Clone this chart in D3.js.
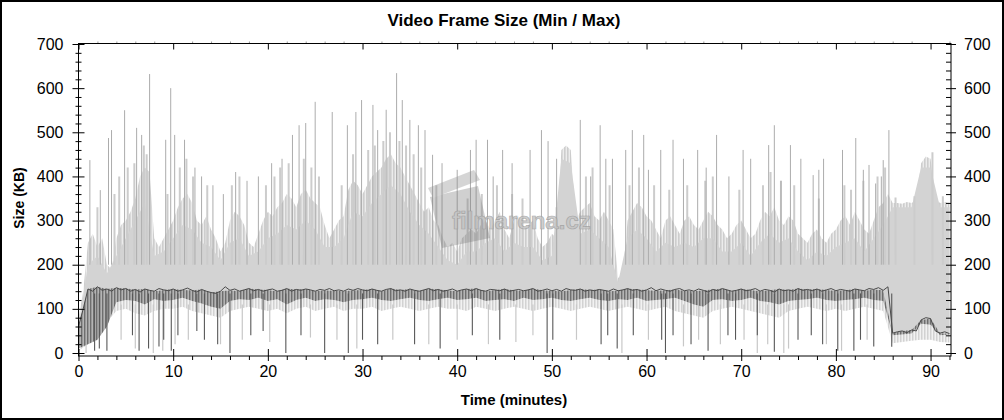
<!DOCTYPE html>
<html><head><meta charset="utf-8">
<script src="https://cdn.jsdelivr.net/npm/d3@7"></script>
<style>body{margin:0;background:#fff}svg{display:block}text{font-family:"Liberation Sans",Arial,sans-serif}</style>
</head><body><svg id="c" width="1004" height="420"></svg>
<script>
// ---- data (KB) ----
// upper envelope of the max band, one value every 0.5 minute (t = 0 .. 92)
const maxBody = [
 80,140,250,270,240,260,200,190,260,290,
 300,320,350,400,420,410,260,240,260,280,
 300,330,350,360,340,300,290,310,280,260,
 230,250,300,320,310,290,250,240,270,300,
 320,310,330,340,360,350,330,360,370,350,
 340,330,290,260,280,300,310,370,390,380,
 360,380,400,410,420,440,450,430,420,400,
 380,360,340,320,330,300,290,260,240,250,
 230,260,270,280,270,290,300,280,300,320,
 280,260,300,310,280,290,300,260,240,250,
 270,260,460,470,460,300,320,330,340,310,
 300,320,300,280,170,180,300,320,340,330,
 310,300,280,260,300,310,290,270,300,310,
 290,280,300,320,310,290,280,260,270,290,
 300,280,260,270,300,320,310,330,300,290,
 310,300,270,260,250,270,280,260,250,270,
 280,300,310,290,320,300,280,270,300,330,
 340,360,340,340,338,342,340,345,430,445,
 440,350,340,342,340];
// solid part of the max band, one value per minute
const maxSolid = [
 60,200,220,180,220,260,300,340,220,230,
 260,290,280,250,240,210,250,260,220,230,
 260,270,290,280,300,280,240,240,260,320,
 310,340,360,380,360,320,290,270,240,210,
 200,230,230,250,260,230,250,240,240,210,
 220,440,430,270,280,260,240,160,260,280,
 260,230,250,240,250,240,260,260,230,230,
 250,220,250,270,250,260,230,210,230,220,
 240,250,260,230,260,290,330,330,330,420,
 420,330,330];
// dark min line, one value every 0.5 minute
const minLine = [
 60,100,145,140,150,142,145,140,148,143,
 146,140,144,138,145,142,140,146,143,141,
 145,140,143,147,142,138,144,140,137,135,
 140,150,142,145,140,143,146,141,144,140,
 143,145,140,142,146,140,144,142,145,143,
 140,144,142,146,141,143,140,145,142,146,
 143,141,145,142,140,144,146,141,143,140,
 145,142,140,143,146,141,144,140,142,145,
 140,143,145,141,146,142,140,144,143,141,
 145,140,142,144,141,143,146,140,142,145,
 141,144,140,146,143,142,145,140,143,141,
 144,142,140,145,141,143,146,142,144,140,
 143,148,141,145,142,140,144,146,141,143,
 140,145,142,138,144,141,146,143,140,142,
 145,141,143,146,140,144,142,138,145,141,
 143,140,146,142,144,141,145,140,143,146,
 141,144,142,140,145,143,141,146,144,148,
 142,150,45,48,50,46,52,50,75,80,
 78,50,45,48,44];
// bottom of the dark band under the min line, one value per minute
const darkLow = [
 10,20,30,60,115,120,118,110,122,118,
 120,125,118,112,105,100,118,122,120,125,
 118,122,110,120,125,118,122,120,115,120,
 122,125,120,118,122,125,120,118,122,125,
 120,122,125,118,120,122,118,125,120,122,
 125,120,118,122,125,120,118,122,120,125,
 118,120,122,125,118,110,105,120,122,118,
 120,125,118,115,110,118,120,122,125,120,
 118,120,122,125,120,118,40,42,44,66,
 64,40,42];
// lower edge of the pale band, one value per minute
const lowEdge = [
 5,20,40,70,95,100,90,85,95,100,
 100,105,95,90,85,80,95,100,105,100,
 95,100,90,100,105,95,100,105,95,100,
 100,105,95,100,105,100,95,100,105,100,
 100,95,105,100,95,100,105,100,95,100,
 105,100,95,100,105,100,95,100,105,100,
 95,100,105,95,90,85,80,95,100,105,
 100,95,90,85,80,95,100,105,100,95,
 100,95,100,105,100,95,22,25,28,30,
 30,25,24];
// tall peaks [minute, KB]
const darkSpikes = [[1.2,437],[2.3,369],[3.17,487],[3.49,505],[4.87,550],[6.14,510],[6.67,494],[7.51,632],[9.21,483],[9.74,600],[10.16,494],[11.2,483],[12.3,420],[13.0,400],[14.2,380],[15.3,360],[16.6,410],[17.8,390],[19.0,400],[20.4,430],[21.5,440],[22.6,494],[23.3,516],[24.0,521],[25.0,569],[26.8,546],[28.4,516],[29.3,546],[29.9,573],[31.1,562],[31.6,505],[32.5,551],[33.6,634],[34.2,573],[35.0,528],[35.9,516],[36.6,505],[37.4,449],[38.4,430],[40.0,415],[41.4,460],[42.0,483],[43.2,483],[43.8,400],[44.8,460],[45.8,430],[47.7,460],[48.9,505],[49.6,480],[50.5,440],[53.0,528],[54.1,400],[55.1,516],[55.7,440],[56.4,440],[57.8,460],[58.5,505],[59.7,494],[60.2,415],[61.5,460],[62.8,483],[63.9,440],[65.4,460],[66.3,420],[67.4,494],[68.7,400],[70.2,460],[71.0,440],[72.9,471],[73.5,516],[74.2,390],[75.2,471],[76.3,440],[77.6,403],[78.2,415],[78.7,440],[80.7,460],[82.1,487],[82.9,415],[83.5,426],[84.2,384],[84.8,400],[85.0,437],[85.6,505]];
const lightBars = [[2.0,330],[3.8,360],[4.3,400],[5.2,420],[5.9,430],[6.9,470],[7.2,450],[9.4,360],[10.7,420],[11.4,440],[12.1,400],[13.6,380],[16.2,380],[17.0,400],[19.8,380],[20.7,400],[21.3,420],[22.2,430],[23.8,440],[24.6,420],[25.4,400],[27.8,380],[29.0,450],[30.6,460],[31.3,470],[32.2,480],[32.9,500],[33.9,480],[34.6,470],[35.4,450],[36.2,420],[37.8,380],[41.1,350],[42.6,360],[44.2,380],[45.8,360],[46.9,350],[50.5,330],[53.6,400],[54.3,420],[56.1,380],[58.2,380],[59.2,420],[60.8,380],[62.4,370],[64.3,380],[66.2,390],[67.0,400],[69.8,370],[72.3,380],[73.1,410],[74.2,390],[75.6,380],[78.2,350],[80.9,380],[81.6,370],[82.9,390],[84.4,400],[85.2,420],[86.3,352],[88.3,355],[90.2,455],[91.3,355]];
// downward drops [minute, KB]
const darkDips = [[1.7,5],[2.2,10],[3.0,5],[5.7,40],[6.4,5],[7.4,10],[8.5,15],[9.0,30],[9.8,5],[10.5,40],[12.5,50],[13.3,30],[14.7,20],[16.0,0],[18.2,40],[19.5,50],[21.9,0],[23.5,40],[26.0,0],[28.5,0],[30.0,30],[31.6,20],[35.5,20],[38.2,10],[41.6,40],[44.5,30],[49.5,0],[50.1,30],[55.2,20],[55.9,40],[56.9,10],[58.6,40],[61.6,30],[62.0,0],[62.8,40],[64.7,20],[66.5,5],[68.6,40],[69.4,30],[71.7,40],[73.5,3],[76.0,30],[77.4,40],[78.6,20],[80.2,5],[81.9,5],[82.6,30],[84.0,15],[85.9,14]];
const lightDips = [[0.8,0],[4.5,30],[6.0,10],[7.9,0],[8.9,5],[10.2,20],[11.6,30],[15.0,20],[17.3,30],[20.2,25],[24.5,35],[27.3,30],[29.4,10],[33.2,30],[37.0,20],[40.0,30],[43.3,20],[46.2,25],[48.0,40],[52.6,30],[57.4,0],[60.2,30],[63.9,15],[65.5,30],[67.8,20],[70.3,30],[71.7,0],[72.8,20],[74.5,0],[75.0,10],[79.0,20],[80.6,5],[83.3,30]];
const yMajor = [0,100,200,300,400,500,600,700];
const xMajor = [0,10,20,30,40,50,60,70,80,90];

// ---- chart ----
const svg = d3.select("#c");
const L = 78.5, R = 951, T = 43.5, B = 356;
const x = d3.scaleLinear().domain([0, 92.16]).range([L, R]);
const y = d3.scaleLinear().domain([0, 700]).range([353, 44]);

const defs = svg.append("defs");
function stripes(id, w, lw, bg, fg){
  const p = defs.append("pattern").attr("id",id).attr("width",w).attr("height",10).attr("patternUnits","userSpaceOnUse");
  p.append("rect").attr("width",w).attr("height",10).attr("fill",bg);
  p.append("rect").attr("width",lw).attr("height",10).attr("fill",fg);
}
stripes("hair", 3, 1.6, "#ececec", "#cdcdcd");
stripes("darkp", 3, 1.4, "#b4b4b4", "#6e6e6e");
stripes("palep", 3, 1.5, "#f2f2f2", "#d2d2d2");

svg.append("rect").attr("x",1).attr("y",1).attr("width",1002).attr("height",418)
  .attr("fill","#fff").attr("stroke","#000").attr("stroke-width",2);

defs.append("clipPath").attr("id","plot").append("rect")
  .attr("x",L).attr("y",T).attr("width",R-L).attr("height",B-T);
const g = svg.append("g").attr("clip-path","url(#plot)");

const half = (d,i) => x(i*0.5), whole = (d,i) => x(i);

// pale band below the min line
g.append("path").datum(lowEdge)
  .attr("d", d3.area().x(whole).y0(d=>y(d)).y1((d,i)=>y(darkLow[i])))
  .attr("fill","url(#palep)");
g.selectAll("line.ld").data(lightDips).join("line").attr("class","ld")
  .attr("x1",d=>x(d[0])).attr("x2",d=>x(d[0]))
  .attr("y1",y(110)).attr("y2",d=>y(d[1]))
  .attr("stroke","#c8c8c8").attr("stroke-width",1.2);

// max band: textured envelope, then solid part
g.append("path").datum(maxBody)
  .attr("d", d3.area().x(half).y0((d,i)=>y(minLine[i])).y1(d=>y(d)))
  .attr("fill","url(#hair)");
g.append("path").datum(maxSolid)
  .attr("d", d3.area().x(whole).y0((d,i)=>y(minLine[Math.min(2*i,minLine.length-1)])).y1(d=>y(d)))
  .attr("fill","#d3d3d3");
g.selectAll("line.lb").data(lightBars).join("line").attr("class","lb")
  .attr("x1",d=>x(d[0])).attr("x2",d=>x(d[0]))
  .attr("y1",y(200)).attr("y2",d=>y(d[1]))
  .attr("stroke","#cccccc").attr("stroke-width",2);
g.selectAll("line.ds").data(darkSpikes).join("line").attr("class","ds")
  .attr("x1",d=>x(d[0])).attr("x2",d=>x(d[0]))
  .attr("y1",y(200)).attr("y2",d=>y(d[1]))
  .attr("stroke","#acacac").attr("stroke-width",1);

// dark band and min line
g.append("path").datum(darkLow)
  .attr("d", d3.area().x(whole).y0(d=>y(d)).y1((d,i)=>y(minLine[Math.min(2*i,minLine.length-1)])))
  .attr("fill","url(#darkp)");
g.selectAll("line.dd").data(darkDips).join("line").attr("class","dd")
  .attr("x1",d=>x(d[0])).attr("x2",d=>x(d[0]))
  .attr("y1",y(135)).attr("y2",d=>y(d[1]))
  .attr("stroke","#585858").attr("stroke-width",1.1);
g.append("path").datum(minLine)
  .attr("d", d3.line().x(half).y(d=>y(d)))
  .attr("fill","none").attr("stroke","#4a4a4a").attr("stroke-width",1);

// watermark
const wm = svg.append("g").attr("opacity",0.35);
wm.append("path").attr("d","M430,197 L478,186 L490,238 L442,248 Z").attr("fill","#7a7a7a");
wm.append("path").attr("d","M428,188 L474,170 L480,180 L433,198 Z").attr("fill","#8a8a8a");
svg.append("text").attr("x",452).attr("y",229).attr("font-size",24).attr("font-weight","bold")
  .attr("fill","#c4c4c4").attr("stroke","#9a9a9a").attr("stroke-width",0.7).attr("opacity",0.8).text("filmarena.cz");

// axes
const ink = "#000";
function styleAxis(sel){ sel.select(".domain").remove(); sel.selectAll("line").attr("stroke",ink); sel.selectAll("text").attr("fill",ink).attr("font-size",16).attr("font-family","'Liberation Sans',Arial,sans-serif"); }
const yMinor = d3.range(0,701,20).filter(v=>v%100!==0);
const xMinor = d3.range(0,93,2).filter(v=>v%10!==0);

const gl = svg.append("g").attr("transform",`translate(${L},0)`);
gl.append("g").call(d3.axisLeft(y).tickValues(yMinor).tickFormat("").tickSize(3)).call(styleAxis)
  .selectAll("line").attr("x2",-3).attr("x1",3);
gl.append("g").call(d3.axisLeft(y).tickValues(yMajor).tickSize(6).tickPadding(9)).call(styleAxis)
  .selectAll("line").attr("x2",-6).attr("x1",6);
const gr = svg.append("g").attr("transform",`translate(${R},0)`);
gr.append("g").call(d3.axisRight(y).tickValues(yMinor).tickFormat("").tickSize(5)).call(styleAxis)
  .selectAll("line").attr("x2",-5).attr("x1",0);
gr.append("g").call(d3.axisRight(y).tickValues(yMajor).tickSize(5).tickPadding(8)).call(styleAxis)
  .selectAll("line").attr("x2",5).attr("x1",-5);
const gb = svg.append("g").attr("transform",`translate(0,${B})`);
gb.append("g").call(d3.axisBottom(x).tickValues(xMinor).tickFormat("").tickSize(4)).call(styleAxis);
gb.append("g").call(d3.axisBottom(x).tickValues(xMajor).tickSize(4).tickPadding(6)).call(styleAxis)
  .selectAll("line").attr("y1",-7).attr("y2",5);
const gt = svg.append("g").attr("transform",`translate(0,${T})`);
gt.append("g").call(d3.axisTop(x).tickValues(xMinor).tickFormat("").tickSize(2)).call(styleAxis)
  .selectAll("line").attr("stroke","#999");
gt.append("g").call(d3.axisTop(x).tickValues(xMajor).tickFormat("").tickSize(0)).call(styleAxis)
  .selectAll("line").attr("y1",0).attr("y2",6);

svg.append("rect").attr("x",L).attr("y",T).attr("width",R-L).attr("height",B-T)
  .attr("fill","none").attr("stroke",ink).attr("stroke-width",1);

// titles
svg.append("text").attr("x",504).attr("y",26).attr("text-anchor","middle")
  .attr("font-size",17).attr("font-weight","bold").text("Video Frame Size (Min / Max)");
svg.append("text").attr("x",514).attr("y",405).attr("text-anchor","middle")
  .attr("font-size",15).attr("font-weight","bold").text("Time (minutes)");
svg.append("text").attr("transform","translate(24,198) rotate(-90)").attr("text-anchor","middle")
  .attr("font-size",14).attr("font-weight","bold").text("Size (KB)");
</script></body></html>
